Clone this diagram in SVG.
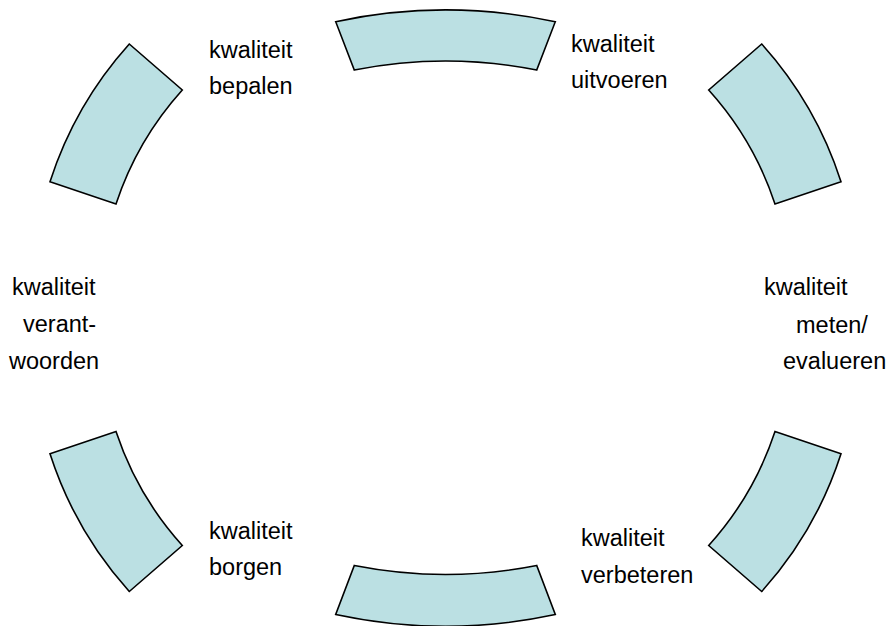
<svg xmlns="http://www.w3.org/2000/svg" width="889" height="626" viewBox="0 0 889 626">
<style>
.seg{fill:#BBE0E3;stroke:#000;stroke-width:1.6;stroke-linejoin:miter}
.lbl{font-family:"Liberation Sans",Arial,sans-serif;font-size:23.5px;fill:#000}
</style>
<rect width="889" height="626" fill="#fff"/>
<g id="seg-top"><path class="seg" d="M335.7,21.7 A523,523 0 0 1 555.3,21.7 L536.7,70 A471,471 0 0 0 354.3,70 Z"/></g>
<g id="seg-topright"><path class="seg" d="M761.7,44 A380,380 0 0 1 841,181.7 L775,204 A320,320 0 0 0 708.7,90 Z"/></g>
<g id="seg-bottomright"><path class="seg" d="M761.7,591.5 A380,380 0 0 0 841,453.8 L775,431.5 A320,320 0 0 1 708.7,545.5 Z"/></g>
<g id="seg-bottom"><path class="seg" d="M335.7,614.5 A523,523 0 0 0 555.3,614.5 L536.7,565.5 A471,471 0 0 1 354.3,565.5 Z"/></g>
<g id="seg-bottomleft"><path class="seg" d="M129.3,591.5 A380,380 0 0 1 50,453.8 L116,431.5 A320,320 0 0 0 182.3,545.5 Z"/></g>
<g id="seg-topleft"><path class="seg" d="M129.3,44 A380,380 0 0 0 50,181.7 L116,204 A320,320 0 0 1 182.3,90 Z"/></g>
<g id="labels">
<text class="lbl" x="209" y="58">kwaliteit</text>
<text class="lbl" x="209" y="94">bepalen</text>
<text class="lbl" x="571" y="52">kwaliteit</text>
<text class="lbl" x="571" y="88">uitvoeren</text>
<text class="lbl" x="764" y="295">kwaliteit</text>
<text class="lbl" x="796" y="333">meten/</text>
<text class="lbl" x="783" y="369">evalueren</text>
<text class="lbl" x="581" y="546">kwaliteit</text>
<text class="lbl" x="581" y="583">verbeteren</text>
<text class="lbl" x="209" y="539">kwaliteit</text>
<text class="lbl" x="209" y="575">borgen</text>
<text class="lbl" x="12" y="295">kwaliteit</text>
<text class="lbl" x="23" y="332">verant-</text>
<text class="lbl" x="9" y="369">woorden</text>
</g>
</svg>
